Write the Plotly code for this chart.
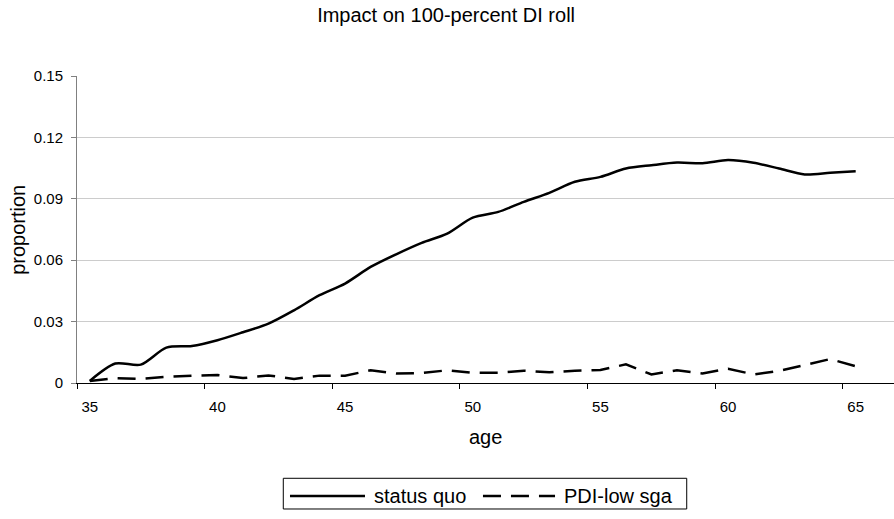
import plotly.graph_objects as go

# Ages (one value per year) and the two simulated series
ages = list(range(35, 66))
status_quo = [0.001, 0.0095, 0.009, 0.0173, 0.0181, 0.0209, 0.0248, 0.029, 0.0355, 0.0429,
              0.0486, 0.0567, 0.0629, 0.0685, 0.073, 0.0808, 0.0836, 0.0885, 0.0929, 0.0983,
              0.1007, 0.1048, 0.1064, 0.1077, 0.1074, 0.1089, 0.1076, 0.1048, 0.1019, 0.1027,
              0.1035]
pdi_low_sga = [0.001, 0.0024, 0.002, 0.003, 0.0036, 0.0039, 0.0024, 0.0037, 0.002, 0.0036,
               0.0036, 0.0062, 0.0046, 0.0049, 0.0062, 0.005, 0.005, 0.006, 0.0052, 0.006,
               0.0064, 0.0091, 0.0042, 0.0062, 0.0046, 0.007, 0.0042, 0.0059, 0.0088, 0.0117,
               0.0082]
series_names = ["status quo", "PDI-low sga"]

x_labels = [35, 40, 45, 50, 55, 60, 65]
y_ticks = [0, 0.03, 0.06, 0.09, 0.12, 0.15]
y_tick_text = ["0", "0.03", "0.06", "0.09", "0.12", "0.15"]

FONT = "Liberation Sans, Arial, sans-serif"
SOLID = dict(color="black", width=2.5)
DASHED = dict(color="black", width=2.5, dash="18px,10px")

fig = go.Figure()
fig.add_trace(go.Scatter(
    x=ages, y=status_quo, name=series_names[0], mode="lines", showlegend=False,
    line=dict(**SOLID, shape="spline", smoothing=0.8),
))
fig.add_trace(go.Scatter(
    x=ages, y=pdi_low_sga, name=series_names[1], mode="lines", showlegend=False,
    line=DASHED,
))

# category-style axis: labels at the year, tick marks on the boundaries between years
boundaries = [a - 0.5 for a in x_labels]

# boxed legend below the axis, with long line samples (paper coordinates)
leg_y = -0.368
legend_shapes = [
    dict(type="rect", xref="paper", yref="paper", x0=0.2525, x1=0.7463, y0=-0.4104, y1=-0.3104,
         line=dict(color="black", width=1), fillcolor="white", layer="above"),
    dict(type="line", xref="paper", yref="paper", x0=0.2607, x1=0.3525, y0=leg_y, y1=leg_y,
         line=SOLID),
    dict(type="line", xref="paper", yref="paper", x0=0.4969, x1=0.5851, y0=leg_y, y1=leg_y,
         line=DASHED),
]
legend_text = [
    dict(text=series_names[0], xref="paper", yref="paper", x=0.3607, y=leg_y,
         xanchor="left", yanchor="middle", showarrow=False, font=dict(size=20, family=FONT)),
    dict(text=series_names[1], xref="paper", yref="paper", x=0.5933, y=leg_y,
         xanchor="left", yanchor="middle", showarrow=False, font=dict(size=20, family=FONT)),
]

fig.update_layout(
    width=894, height=519,
    margin=dict(l=77, r=0, t=76, b=136),
    paper_bgcolor="white", plot_bgcolor="white",
    font=dict(family=FONT, color="black"),
    title=dict(text="Impact on 100-percent DI roll", x=0.499, xanchor="center",
               y=0.971, yanchor="middle", font=dict(size=20, family=FONT, color="black")),
    showlegend=False,
    xaxis=dict(range=[34.5, 66.5], tickmode="array", tickvals=x_labels,
               ticktext=[str(v) for v in x_labels], ticks="", showgrid=False,
               showline=True, linecolor="black", linewidth=1, zeroline=False,
               tickfont=dict(size=15, family=FONT), ticklabelstandoff=10,
               minor=dict(tickmode="array", tickvals=boundaries, ticks="outside",
                          ticklen=5, tickcolor="black", tickwidth=1, showgrid=False)),
    yaxis=dict(range=[0, 0.15], tickmode="array", tickvals=y_ticks, ticktext=y_tick_text,
               ticks="outside", ticklen=5, tickcolor="#808080", showline=True,
               linecolor="#808080", linewidth=1, showgrid=True, gridcolor="#cccccc",
               gridwidth=1, zeroline=False, tickfont=dict(size=15, family=FONT),
               ticklabelstandoff=5),
    shapes=legend_shapes,
    annotations=[
        dict(text="age", xref="paper", yref="paper", x=0.5, y=-0.177,
             xanchor="center", yanchor="middle", showarrow=False,
             font=dict(size=20, family=FONT)),
        dict(text="proportion", xref="paper", yref="paper", x=-0.073, y=0.5,
             xanchor="center", yanchor="middle", showarrow=False, textangle=-90,
             font=dict(size=20, family=FONT)),
    ] + legend_text,
)

fig.write_html("out.html")
